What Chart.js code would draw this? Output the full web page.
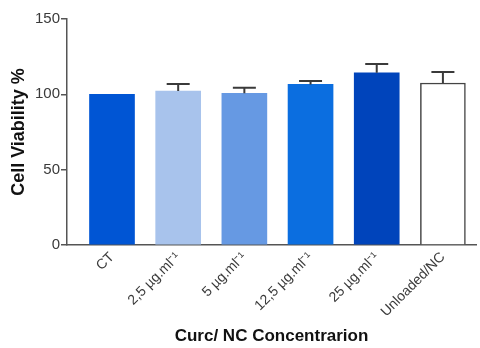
<!DOCTYPE html>
<html>
<head>
<meta charset="utf-8">
<script src="https://cdn.jsdelivr.net/npm/chart.js@4/dist/chart.umd.min.js"></script>
<style>
  html, body { margin: 0; padding: 0; background: #fff; }
  #wrap { width: 480px; height: 348px; }
</style>
</head>
<body>
<div id="wrap"><canvas id="viab"></canvas></div>
<script>
const categories = ["CT", "2,5 \u00b5g.ml\u207b\u00b9", "5 \u00b5g.ml\u207b\u00b9", "12,5 \u00b5g.ml\u207b\u00b9", "25 \u00b5g.ml\u207b\u00b9", "Unloaded/NC"];
const viability = [100, 102.2, 100.7, 106.6, 114.3, 107.5];
const errUp = [0, 4.6, 3.7, 2.2, 5.8, 7.3];
const barColors = ["#0055d4", "#a8c3ec", "#6699e3", "#0b6ee0", "#0044bb", "#ffffff"];
const borderColors = ["#0055d4", "#a8c3ec", "#6699e3", "#0b6ee0", "#0044bb", "#444444"];
const yTicks = [0, 50, 100, 150];

const axisColor = "#555";
const textColor = "#3a3a3a";

// upper error bars only, like the prism plot
const errorBars = {
  id: "errorBars",
  afterDatasetsDraw(chart) {
    const { ctx, scales } = chart;
    ctx.save();
    ctx.strokeStyle = "#3a3a3a";
    ctx.lineWidth = 2;
    viability.forEach((v, i) => {
      if (!errUp[i]) return;
      const x = scales.x.getPixelForValue(i);
      const y0 = scales.y.getPixelForValue(v);
      const y1 = scales.y.getPixelForValue(v + errUp[i]);
      ctx.beginPath();
      ctx.moveTo(x, y0);
      ctx.lineTo(x, y1);
      ctx.moveTo(x - 11.5, y1);
      ctx.lineTo(x + 11.5, y1);
      ctx.stroke();
    });
    ctx.restore();
  },
};

new Chart(document.getElementById("viab"), {
  type: "bar",
  data: {
    datasets: [
      {
        data: viability.map((v, i) => ({ x: i, y: v })),
        backgroundColor: barColors,
        borderColor: borderColors,
        borderWidth: (c) => (c.dataIndex === 5 ? 1.5 : 0),
        barThickness: 45,
      },
    ],
  },
  options: {
    responsive: true,
    maintainAspectRatio: false,
    animation: false,
    layout: { padding: { top: 19, right: 4, left: 0, bottom: 0 } },
    plugins: { legend: { display: false }, tooltip: { enabled: false } },
    scales: {
      x: {
        type: "linear",
        offset: false,
        min: -0.68,
        max: 5.5,
        afterBuildTicks: (ax) => {
          ax.ticks = categories.map((_, i) => ({ value: i }));
        },
        afterFit: (ax) => {
          ax.height = 103;
        },
        grid: { display: false, drawTicks: false },
        border: { color: axisColor, width: 1.5 },
        ticks: {
          minRotation: 45,
          maxRotation: 45,
          padding: 4,
          color: textColor,
          font: { family: "Liberation Sans, Arial", size: 14 },
          callback: (v) => categories[v],
        },
        title: {
          display: true,
          text: "Curc/ NC Concentrarion",
          color: "#111",
          font: { family: "Liberation Sans, Arial", size: 17, weight: "bold" },
          padding: { top: 0, bottom: 1 },
        },
      },
      y: {
        min: 0,
        max: 150,
        afterBuildTicks: (ax) => {
          ax.ticks = yTicks.map((v) => ({ value: v }));
        },
        afterFit: (ax) => {
          ax.width = 67;
        },
        grid: {
          display: true,
          drawOnChartArea: false,
          drawTicks: true,
          tickLength: 6,
          color: axisColor,
          lineWidth: 1.5,
        },
        border: { color: axisColor, width: 1.5 },
        ticks: {
          padding: 1,
          color: textColor,
          font: { family: "Liberation Sans, Arial", size: 15 },
        },
        title: {
          display: true,
          text: "Cell Viability %",
          color: "#111",
          font: { family: "Liberation Sans, Arial", size: 18, weight: "bold" },
          padding: { top: 8, bottom: 0 },
        },
      },
    },
  },
  plugins: [errorBars],
});
</script>
</body>
</html>
